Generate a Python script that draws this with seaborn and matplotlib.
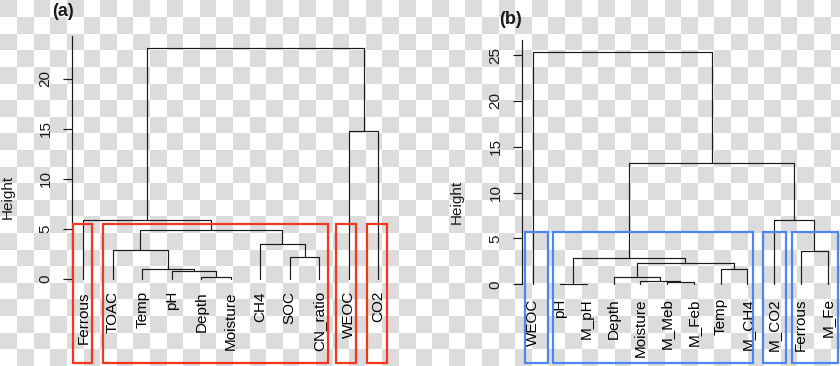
import numpy as np
import pandas as pd
import matplotlib
matplotlib.use("Agg")
import matplotlib.pyplot as plt
from matplotlib.patches import Rectangle
import seaborn as sns

# ---------------- data ----------------
leaves_a = ["Ferrous", "TOAC", "Temp", "pH", "Depth", "Moisture", "CH4", "SOC",
            "CN_ratio", "WEOC", "CO2"]
# merges: (child1, child2, height); children are leaf names or merge indices
merges_a = [("Depth", "Moisture", 0.23),
            ("pH", 0, 0.83),
            ("Temp", 1, 1.03),
            ("SOC", "CN_ratio", 2.23),
            ("TOAC", 2, 2.9),
            ("CH4", 3, 3.5),
            (4, 5, 4.87),
            ("Ferrous", 6, 5.87),
            ("WEOC", "CO2", 14.8),
            (7, 8, 23.1)]
groups_a = [("Ferrous", "Ferrous"), ("TOAC", "CN_ratio"), ("WEOC", "WEOC"), ("CO2", "CO2")]
yticks_a = [0, 5, 10, 15, 20]

leaves_b = ["WEOC", "pH", "M_pH", "Depth", "Moisture", "M_Meb", "M_Feb", "Temp",
            "M_CH4", "M_CO2", "Ferrous", "M_Fe"]
merges_b = [("pH", "M_pH", 0.03),
            ("M_Meb", "M_Feb", 0.22),
            ("Moisture", 1, 0.32),
            ("Depth", 2, 0.8),
            ("Temp", "M_CH4", 1.7),
            (3, 4, 2.3),
            (0, 5, 2.9),
            ("Ferrous", "M_Fe", 3.6),
            ("M_CO2", 7, 7.05),
            (6, 8, 13.2),
            ("WEOC", 9, 25.3)]
groups_b = [("WEOC", "WEOC"), ("pH", "M_CH4"), ("M_CO2", "M_CO2"), ("Ferrous", "M_Fe")]
yticks_b = [0, 5, 10, 15, 20, 25]

# ---------------- style ----------------
W, H = 840, 366
FONT = ["Liberation Sans", "DejaVu Sans"]
sns.set_theme(style="white")
plt.rcParams["font.family"] = FONT

fig = plt.figure(figsize=(W / 100, H / 100), dpi=100)

# checkered background
cell = 16.6
yy, xx = np.mgrid[0:H, 0:W]
chk = ((xx // cell + yy // cell) % 2 == 0)
img = np.ones((H, W, 3))
img[chk] = np.array([220, 220, 220]) / 255.0
bg = fig.add_axes([0, 0, 1, 1], zorder=-10)
bg.imshow(img, aspect="auto", extent=(0, W, H, 0), interpolation="nearest")
bg.set_axis_off()


def segments(leaves, merges):
    pos = {name: float(i) for i, name in enumerate(leaves)}
    xs, hs = [], []
    rows = []

    def get(c):
        if isinstance(c, str):
            return pos[c], 0.0
        return xs[c], hs[c]

    for k, (c1, c2, h) in enumerate(merges):
        x1, h1 = get(c1)
        x2, h2 = get(c2)
        for j, (px, py) in enumerate([(x1, h1), (x1, h), (x2, h), (x2, h2)]):
            rows.append({"seg": k, "order": j, "x": px, "y": py})
        xs.append((x1 + x2) / 2)
        hs.append(h)
    return pd.DataFrame(rows), pos


def panel(rect_px, leaves, merges, groups, yticks, x0_px, dx_px, y0_px, dy_px,
          spine_top, box_top, box_bot_px, pads, box_color, label_off, letter, letter_xy,
          ylabel_xy):
    l, t, r, b = rect_px
    ax = fig.add_axes([l / W, 1 - b / H, (r - l) / W, (b - t) / H])
    ax.patch.set_alpha(0)
    ax.set_xlim((l - x0_px) / dx_px, (r - x0_px) / dx_px)
    ax.set_ylim((y0_px - b) / dy_px, (y0_px - t) / dy_px)

    df, pos = segments(leaves, merges)
    sns.lineplot(data=df, x="x", y="y", units="seg", estimator=None, sort=False,
                 color="#1a1a1a", linewidth=0.85, ax=ax, legend=False)

    for name, px in pos.items():
        ax.annotate(name, (px, 0), xytext=(0, -label_off), textcoords="offset pixels",
                    rotation=90, ha="center", va="top", fontsize=11, color="black",
                    annotation_clip=False)

    bot = (y0_px - box_bot_px) / dy_px
    for (g0, g1), (pl, pr) in zip(groups, pads):
        xl = pos[g0] - pl
        xr = pos[g1] + pr
        ax.add_patch(Rectangle((xl, bot), xr - xl, box_top - bot, fill=False,
                               edgecolor=box_color, linewidth=1.6, clip_on=False, zorder=5))

    for s in ["top", "right", "bottom"]:
        ax.spines[s].set_visible(False)
    ax.spines["left"].set_visible(True)
    ax.spines["left"].set_color("#1a1a1a")
    ax.spines["left"].set_linewidth(0.85)
    ax.spines["left"].set_bounds(0, spine_top)
    ax.set_xticks([])
    ax.set_yticks(yticks)
    ax.set_yticklabels([str(v) for v in yticks], rotation=90, va="center")
    ax.tick_params(axis="y", left=True, length=6.2, width=0.85, color="#1a1a1a",
                   pad=7.5, labelsize=11, labelcolor="#1a1a1a")
    ax.set_xlabel("")
    ax.set_ylabel("")
    ax.grid(False)
    fig.text(ylabel_xy[0] / W, 1 - ylabel_xy[1] / H, "Height", fontsize=11,
             rotation=90, ha="center", va="center", color="#1a1a1a")
    fig.text(letter_xy[0] / W, 1 - letter_xy[1] / H, letter, fontsize=13,
             fontweight="bold", ha="center", va="center", color="#1a1a1a")
    return ax


panel((71.7, 30, 395, 366), leaves_a, merges_a, groups_a, yticks_a,
      x0_px=83.3, dx_px=29.5, y0_px=279.0, dy_px=10.0, spine_top=24.3,
      box_top=5.5, box_bot_px=363.3,
      pads=[(0.36, 0.31), (0.33, 0.31), (0.43, 0.25), (0.39, 0.28)],
      box_color="#f5361e", label_off=12, letter="(a)", letter_xy=(63, 12),
      ylabel_xy=(8, 197))

panel((521.7, 30, 840, 366), leaves_b, merges_b, groups_b, yticks_b,
      x0_px=533.3, dx_px=26.76, y0_px=284.3, dy_px=9.17, spine_top=26.6,
      box_top=5.67, box_bot_px=363.3,
      pads=[(0.31, 0.54), (0.28, 0.22), (0.42, 0.43), (0.35, 0.38)],
      box_color="#4a86f5", label_off=14, letter="(b)", letter_xy=(511, 19),
      ylabel_xy=(456.7, 201.7))

fig.savefig("out.png", dpi=100)
